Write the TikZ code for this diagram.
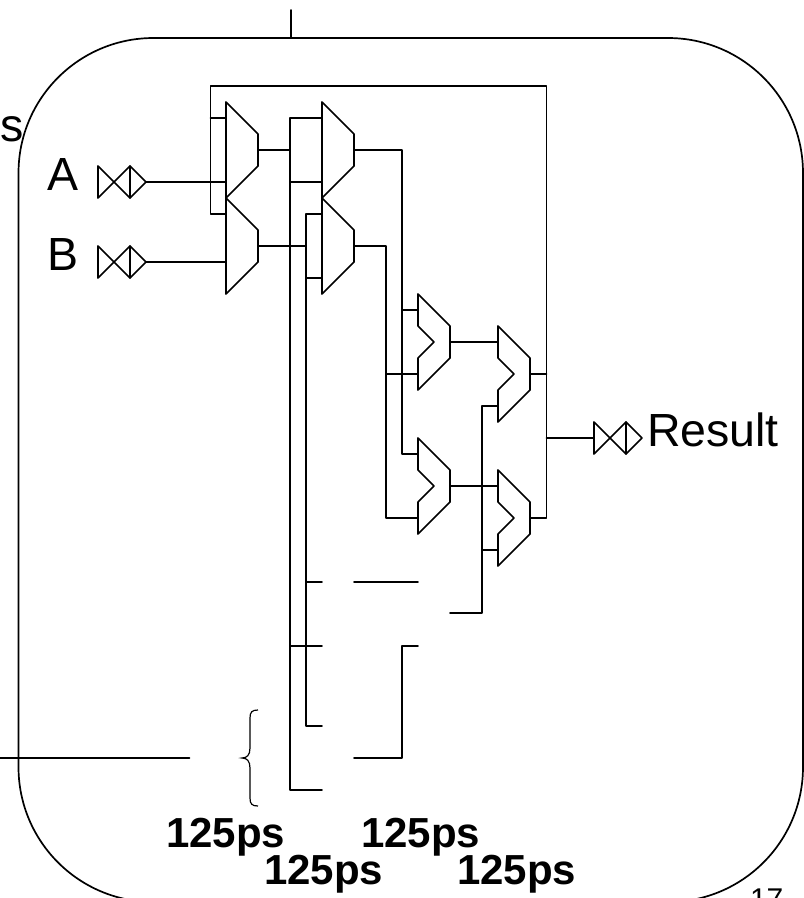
\documentclass[tikz,border=0pt]{standalone}
\usepackage{fontspec}
\setmainfont{Liberation Sans}
\usetikzlibrary{calc}
\tikzset{
  wire/.style={line width=1.7pt,line join=round,line cap=round,black},
  lbl/.style={inner sep=0pt,outer sep=0pt,anchor=base west},
  big/.style={lbl,font=\fontsize{46.5}{50}\selectfont},
  delay/.style={lbl,font=\fontsize{42}{46}\selectfont\bfseries},
}
% plain mux: top-left corner at (#2,#3)
\newcommand{\plainmux}[3]{%
  \draw[wire] (#2,#3) -- (#2+32,#3+32) -- (#2+32,#3+64) -- (#2,#3+96) -- cycle;
  \coordinate (#1a) at (#2,#3+16);
  \coordinate (#1m) at (#2,#3+64);
  \coordinate (#1b) at (#2,#3+80);
  \coordinate (#1o) at (#2+32,#3+48);
}
% notched adder shape
\newcommand{\addmux}[3]{%
  \draw[wire] (#2,#3) -- (#2+32,#3+32) -- (#2+32,#3+64) -- (#2,#3+96) -- (#2,#3+64) -- (#2+16,#3+48) -- (#2,#3+32) -- cycle;
  \coordinate (#1a) at (#2,#3+16);
  \coordinate (#1b) at (#2,#3+80);
  \coordinate (#1o) at (#2+32,#3+48);
}
% pad symbol: left end at (#2,#3 centre)
\newcommand{\padsym}[3]{%
  \draw[wire] (#2+32,#3-16) -- (#2,#3+16) -- (#2,#3-16) -- (#2+32,#3+16) -- (#2+48,#3) -- (#2+32,#3-16) -- cycle;
  \draw[wire] (#2+32,#3-16) -- (#2+32,#3+16);
  \coordinate (#1l) at (#2,#3);
  \coordinate (#1r) at (#2+48,#3);
}
\begin{document}
\begin{tikzpicture}[x=1pt,y=-1pt]
\useasboundingbox (0,0) rectangle (804,898);
\clip (0,0) rectangle (804,898);
% outer block
\draw[wire] (18.5,173) arc[start angle=180,end angle=90,x radius=135,y radius=-135] -- (668,38)
  arc[start angle=90,end angle=0,x radius=135,y radius=-135] -- (803,767)
  arc[start angle=0,end angle=-90,x radius=135,y radius=-135] -- (153.5,902)
  arc[start angle=-90,end angle=-180,x radius=135,y radius=-135] -- cycle;
\coordinate (topstub) at (291,10);
\coordinate (topedge) at (291,38);
\draw[wire] (topstub) -- (topedge);
\coordinate (leftstub) at (0,758);
\coordinate (leftend) at (189.5,758);
\draw[wire] (leftstub) -- (leftend);
% labels
\node[big] (ls) at (1,141) {s};
\node[big] (la) at (47,190) {A};
\node[big] (lb) at (47,270) {B};
\node[big] (lr) at (647,446) {Result};
\node[delay] (d1) at (166,847) {125ps};
\node[delay] (d2) at (264,884) {125ps};
\node[delay] (d3) at (361,847) {125ps};
\node[delay] (d4) at (457,884) {125ps};
\node[lbl,font=\fontsize{30}{34}\selectfont] (pg) at (750,909) {17};
% pads
\padsym{pa}{98}{182}
\padsym{pb}{98}{262}
\padsym{pr}{594}{438}
% muxes
\plainmux{m1}{226}{102}
\plainmux{m2}{226}{198}
\plainmux{m3}{322}{102}
\plainmux{m4}{322}{198}
\addmux{s1}{418}{294}
\addmux{s2}{418}{438}
\addmux{s3}{498}{326}
\addmux{s4}{498}{470}
% inputs
\coordinate (ma) at (226,182);
\draw[wire] (par) -- (ma);
\draw[wire] (pbr) -- (m2m);
% feedback loop
\coordinate (fb1) at (210.5,86);
\coordinate (fb2) at (546.5,86);
\coordinate (fb3) at (210.5,214);
\coordinate (fb4) at (210.5,118);
\coordinate (fb5) at (546.5,438);
\draw[wire] (m2a) -- (fb3) -- (fb1) -- (fb2) -- (fb2 |- s4o) -- (s4o);
\draw[wire] (fb4) -- (m1a);
\draw[wire] (s3o) -- (fb2 |- s3o);
\draw[wire] (fb5) -- (prl);
% bus 1
\coordinate (b1t) at (290,118);
\coordinate (b1b) at (290,790);
\coordinate (e790) at (322,790);
\coordinate (e646) at (322,646);
\draw[wire] (m3a) -- (b1t) -- (b1b) -- (e790);
\draw[wire] (m1o) -- (m1o -| b1t);
\draw[wire] (290,182) -- (322,182);
\draw[wire] (290,646) -- (e646);
% bus 2
\coordinate (b2t) at (306,214);
\coordinate (b2b) at (306,726);
\coordinate (e726) at (322,726);
\coordinate (e582) at (322,582);
\draw[wire] (m4a) -- (b2t) -- (b2b) -- (e726);
\draw[wire] (m2o) -- (m2o -| b2t);
\draw[wire] (m4b) -- (m4b -| b2t);
\draw[wire] (306,582) -- (e582);
% mid rails
\coordinate (r1t) at (402,150);
\coordinate (r1b) at (402,454);
\draw[wire] (m3o) -- (r1t) -- (r1b) -- (s2a);
\draw[wire] (402,310) -- (s1a);
\coordinate (r2t) at (386,246);
\coordinate (r2b) at (386,518);
\draw[wire] (m4o) -- (r2t) -- (r2b) -- (s2b);
\draw[wire] (386,374) -- (s1b);
% adders to last stage
\draw[wire] (s1o) -- (s3a);
\draw[wire] (s2o) -- (s4a);
\coordinate (r3t) at (482,406);
\coordinate (r3b) at (482,613);
\coordinate (r3e) at (450,613);
\draw[wire] (s3b) -- (r3t) -- (r3b) -- (r3e);
\draw[wire] (482,550) -- (s4b);
% free segments
\coordinate (f1) at (354,582);
\coordinate (f2) at (418,582);
\draw[wire] (f1) -- (f2);
\coordinate (g1) at (418,646);
\coordinate (g2) at (402,646);
\coordinate (g3) at (402,758);
\coordinate (g4) at (354,758);
\draw[wire] (g1) -- (g2) -- (g3) -- (g4);
% brace
\draw[line width=1.2pt,black] (258,710) .. controls (252,710) and (250,712) .. (250,718)
  -- (250,748) .. controls (250,755) and (247,758) .. (242,758)
  .. controls (247,758) and (250,761) .. (250,768) -- (250,798)
  .. controls (250,804) and (252,806) .. (258,806);
\end{tikzpicture}
\end{document}
